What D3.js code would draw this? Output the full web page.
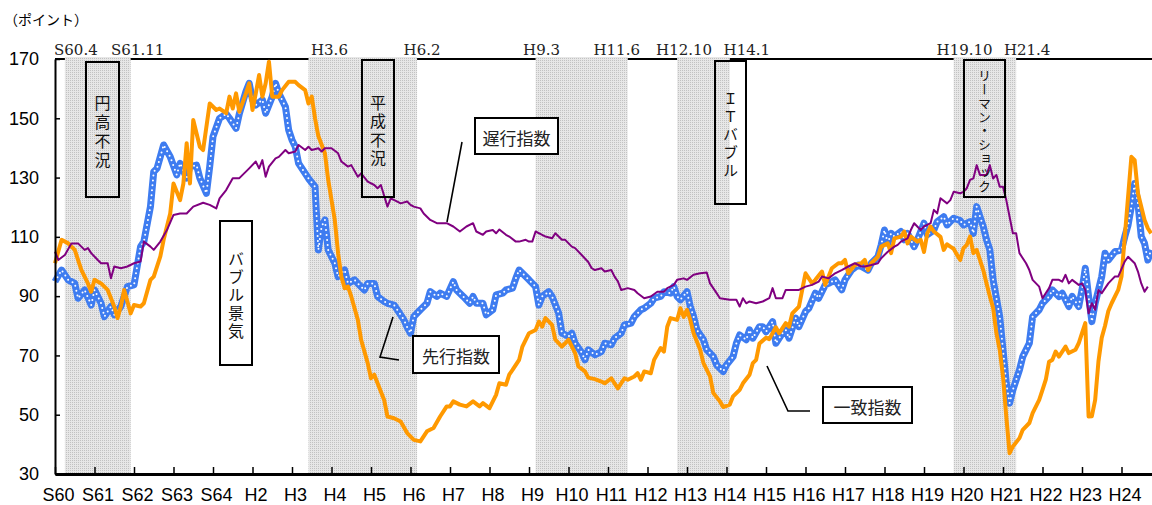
<!DOCTYPE html>
<html><head><meta charset="utf-8">
<script src="https://cdn.jsdelivr.net/npm/d3@7"></script>
<style>html,body{margin:0;padding:0;background:#fff;overflow:hidden}</style>
</head><body><svg id="c" width="1152" height="505"></svg>
<script>
// ---------------- DATA ----------------
const startYear = 1985; // month index 0 = January 1985 (S60.1)
const xLabels = ["S60","S61","S62","S63","S64","H2","H3","H4","H5","H6","H7","H8","H9","H10","H11","H12","H13","H14","H15","H16","H17","H18","H19","H20","H21","H22","H23","H24"];
const yTicks = [30,50,70,90,110,130,150,170];
const recessionStart = ["1985-04","1991-06","1997-03","2000-10","2007-10"];
const recessionEnd   = ["1986-11","1994-02","1999-06","2002-01","2009-04"];
const recessionStartLabels = ["S60.4","H3.6","H9.3","H12.10","H19.10"];
const recessionEndLabels   = ["S61.11","H6.2","H11.6","H14.1","H21.4"];
const seriesNames = ["先行指数","一致指数","遅行指数"];
const periodNames = ["円高不況","バブル景気","平成不況","ＩＴバブル","リーマン・ショック"];

// [month index from Jan 1985, index value]
const leading = [[0,94.9],[2,98.8],[4,95.5],[6,94.3],[7,89.3],[9,92.1],[11,87],[12,92.1],[14,87.6],[15,83.1],[17,86.5],[18,83.7],[20,86.5],[22,93.2],[24,93.8],[26,106.7],[27,108.4],[29,120.2],[30,132],[31,133.1],[33,141],[35,137],[37,130.9],[38,134.8],[40,129.8],[41,133.7],[43,134.2],[44,129.8],[46,124.7],[47,133.7],[48,143.8],[50,150],[52,151.5],[53,150],[55,146.6],[56,151.5],[58,159],[59,161.8],[60,156.2],[61,154.5],[63,156.2],[64,151.7],[66,157.3],[67,161.8],[68,158.4],[70,153.9],[71,146],[72,142.7],[73,140.4],[74,134.8],[76,131.4],[77,129.7],[79,126.9],[80,105.6],[81,113.5],[82,115.7],[83,105.6],[85,101.1],[86,96.6],[88,98.8],[89,94.3],[91,95.5],[92,94.3],[94,92.1],[95,94.3],[97,94.3],[98,89.9],[100,88.2],[101,87.6],[103,87],[104,85.4],[106,82],[107,79.5],[108,77.5],[109,83.1],[111,85.4],[113,87.6],[114,91.5],[116,89.9],[117,91],[119,89.9],[121,94.9],[122,92.1],[124,89.9],[126,87.6],[127,89.9],[128,87.6],[130,87.6],[131,83.7],[133,85.4],[134,90.4],[136,91],[137,92.1],[139,92.7],[140,96],[141,98.8],[143,96.6],[144,95.5],[146,93.2],[147,87],[148,89.9],[150,91.5],[151,89.9],[153,84.3],[154,77.5],[156,76.4],[157,77.5],[158,74.1],[160,71],[161,68.5],[162,71.9],[164,70.2],[166,71.3],[167,74.1],[169,73.6],[170,75.8],[172,77.5],[173,80.3],[175,80.9],[176,83.1],[178,85.4],[179,85.9],[181,87.6],[182,89.3],[184,89.9],[185,91.5],[187,91],[188,93.2],[189,89.9],[190,88.8],[192,91.5],[193,86.5],[194,83.1],[195,78.6],[197,75.3],[198,71.9],[200,69.6],[201,66.8],[203,64.6],[204,66.8],[206,69.6],[207,74.1],[208,76.9],[210,75.3],[211,78.6],[212,75.8],[214,79.7],[215,79.7],[216,78],[218,81.4],[219,74.1],[221,77.5],[222,78.6],[223,75.8],[225,82.6],[226,79.7],[228,84.8],[229,85.9],[231,91],[232,89.3],[234,93.8],[235,94.3],[237,95.5],[239,92.1],[240,95.5],[242,98.8],[244,100.5],[245,100],[247,98.8],[248,101.1],[250,103.3],[251,107.3],[252,112.3],[253,107.8],[254,111.2],[255,110.1],[257,111.8],[258,109],[259,111.2],[261,106.7],[262,109],[264,114.6],[265,110.7],[267,112.3],[268,115.1],[270,116.8],[271,114],[273,116.3],[275,115.5],[276,114],[278,115.1],[279,111.2],[280,120.2],[282,113.5],[283,109],[284,105.6],[285,95.5],[287,83.1],[288,71.9],[289,60.6],[290,53.9],[291,58.4],[293,65.1],[294,69.6],[296,74.1],[297,83.1],[299,85.4],[300,87.6],[302,89.9],[303,92.1],[305,89.9],[306,91],[308,86.5],[309,89.9],[311,86.5],[312,92.1],[313,99.4],[314,89.9],[315,81.4],[316,87.6],[318,96.6],[319,104.5],[320,102.2],[322,105],[324,105.6],[325,110.1],[326,114],[327,120.2],[328,128],[329,121.3],[330,110.1],[331,107.8],[332,102.2],[333,105.6]];

const coincident = [[0,101.1],[2,109],[4,107.8],[6,105.6],[8,98.9],[10,94.3],[11,91.5],[12,95.5],[14,94.3],[16,92.1],[18,86.5],[19,82.6],[20,86.5],[21,92.1],[23,84.2],[24,87],[26,86.5],[27,87.6],[29,95.5],[30,96.6],[32,103.4],[33,109],[35,117.9],[36,128],[38,122.4],[39,128],[40,141.6],[41,128],[42,149.4],[44,140.4],[45,139.3],[47,155],[49,152.8],[50,153.3],[52,151.7],[53,157.3],[54,153.3],[55,158.4],[56,152.2],[58,158.4],[59,161.8],[60,152.8],[61,158.4],[62,164.6],[63,157.3],[64,161.8],[65,169.1],[66,157.3],[68,157.3],[69,159.5],[71,162.3],[73,162.3],[74,161.2],[76,159.5],[77,155],[78,157.3],[79,150],[80,144],[82,138.2],[83,129.2],[85,115.7],[86,104.5],[87,96.6],[88,92.7],[89,93.2],[90,89.9],[92,82],[93,75.3],[95,67.4],[96,62.3],[97,63.5],[98,60.6],[100,55],[101,49.4],[103,48.8],[105,47.7],[107,43.8],[109,41.5],[111,41],[113,44.4],[115,45.5],[117,49.4],[119,52.8],[120,52.8],[121,54.5],[123,53.4],[125,52.8],[127,54.5],[129,52.8],[130,53.9],[132,52.2],[134,56.7],[135,60.6],[137,60.1],[138,63.5],[139,65.1],[141,68.5],[142,73],[144,77.5],[146,78.6],[147,81.4],[148,79.7],[149,82.6],[151,80.3],[152,75.3],[154,73],[155,74.1],[156,75.3],[158,70.8],[159,66.3],[161,64.6],[162,62.5],[164,62],[166,61.2],[167,60.6],[169,62.3],[170,60.6],[171,58.9],[173,62.3],[174,61.8],[176,62.9],[177,64],[178,61.8],[179,64.6],[181,64],[182,68.5],[184,72.5],[185,71.3],[186,79.7],[187,82.6],[189,82],[190,85.9],[191,83],[192,85.4],[193,82],[194,77.5],[196,71.9],[197,67.4],[199,62.9],[200,57.3],[202,54.5],[203,52.6],[205,53.4],[206,56.2],[208,58.4],[209,60.6],[211,63.5],[212,67.4],[213,68.5],[214,74],[216,76],[217,75.5],[219,79.5],[220,77.5],[222,80.9],[223,79.7],[224,84.2],[226,86.5],[227,92.1],[228,97.7],[230,94.3],[231,95.5],[233,98.3],[234,93.8],[236,99.4],[238,101.1],[239,101.1],[240,102.2],[241,97.7],[243,100.5],[245,101.1],[246,102.2],[247,98.8],[248,101.1],[250,103.3],[251,106.7],[253,107.8],[254,104.5],[255,109.5],[257,110.1],[258,111.8],[259,107.8],[260,110.1],[262,108.4],[263,109],[264,104.9],[265,111.2],[266,113.5],[267,111.8],[269,110],[270,105.6],[271,107.5],[272,106.7],[273,106],[274,104],[275,102.2],[276,106.2],[277,107.3],[278,110.1],[279,104.5],[280,105.6],[282,98.8],[283,94.3],[284,90],[285,86],[286,77.5],[287,71.9],[288,62.9],[289,49.4],[290,37],[291,39.3],[293,42.1],[294,44.9],[296,47.2],[297,50.5],[299,55],[300,58.4],[301,61.8],[302,67.9],[303,68.5],[304,71.3],[305,69.6],[307,73],[308,70.8],[310,71.9],[311,74.1],[312,77.5],[313,80.9],[314,49.4],[315,49.5],[316,55],[317,68],[318,76],[319,80],[320,85],[321,87.6],[323,92.1],[324,96.6],[325,110.1],[326,123.6],[327,137],[328,135.9],[329,124.7],[331,115.7],[332,112.9],[333,111.2]];

const lagging = [[0,105],[1,102.2],[3,103.9],[5,107.8],[7,107.8],[9,105.6],[10,106.2],[11,104.5],[13,102.2],[14,101.1],[16,101.1],[17,96],[18,100],[20,99.4],[22,100],[24,101.1],[26,101.7],[27,108.4],[29,106.7],[30,105.6],[32,108.4],[34,112.3],[36,117.4],[38,117.9],[40,117.9],[42,120.2],[45,121.5],[47,120.8],[49,119.6],[50,123],[52,125.8],[54,129.8],[56,129.8],[58,132],[59,133.1],[61,135.4],[62,133.1],[63,135.9],[64,130.3],[65,133.7],[67,136.5],[68,137],[70,139.3],[71,138.2],[73,138.8],[74,141],[76,139.3],[77,140.4],[78,139.3],[80,139.9],[81,138.8],[82,139.9],[84,139.9],[86,138.2],[87,135.4],[89,133.7],[90,134.2],[92,130.3],[93,131.4],[95,128.6],[97,127.5],[98,126.4],[99,127.5],[101,120.2],[102,123],[104,121.9],[105,121.3],[107,121.9],[108,120.8],[109,120.2],[111,119.6],[112,117.9],[114,115.7],[116,114.6],[119,114.6],[121,113.5],[123,111.8],[125,113.5],[127,114.6],[128,111.8],[130,110.7],[131,111.8],[133,112.3],[134,111.2],[135,112.5],[137,110.7],[138,110.1],[140,108.4],[141,108.4],[143,109],[144,108.4],[145,108.4],[146,111.8],[148,110.7],[149,110.1],[151,109.5],[152,111.2],[154,109],[155,109],[157,106.7],[158,106.2],[160,103.9],[162,101.5],[163,99.5],[164,98.8],[166,99.4],[167,98.3],[169,98.8],[170,96.6],[171,95],[172,92.1],[174,92.7],[176,92.1],[177,91],[179,89.3],[181,89.9],[183,91.5],[185,91.5],[186,92.7],[188,93.8],[189,95.5],[191,96],[192,95.5],[194,97.2],[196,97.7],[198,98],[199,94.3],[201,91],[202,89.3],[205,88.8],[207,88.8],[208,86.5],[209,89.3],[210,87.6],[211,88.2],[213,87.6],[215,88.2],[217,89.3],[218,92.7],[219,89.3],[221,89.3],[222,92.1],[224,92.1],[226,92.1],[228,93.2],[230,93.8],[232,94.9],[233,96.6],[235,96],[237,97.7],[239,98.8],[241,100],[243,101.1],[245,100],[246,100],[248,100.5],[250,101.1],[251,102.8],[253,105],[255,106.7],[256,107.3],[257,108.4],[259,109.5],[260,112.3],[261,114.6],[263,112.3],[264,113.5],[266,114.6],[267,119.1],[268,117.9],[269,123],[271,121.3],[272,122.4],[273,125.2],[275,124.7],[276,125.2],[277,126.4],[278,129.2],[279,129.7],[280,134.2],[281,130.9],[283,130.9],[284,134.2],[285,129.7],[286,130.9],[287,126.9],[288,126.9],[289,122.4],[290,116.8],[291,111.2],[292,111.2],[293,104.5],[295,101.1],[296,98.8],[297,95.5],[299,93.2],[300,89.3],[302,92.7],[303,95.5],[305,95.5],[306,94.9],[307,97.2],[308,94.3],[309,95.5],[311,93.8],[312,94.3],[313,92.1],[314,84.2],[315,87.6],[316,85.4],[317,92.1],[318,91],[320,94.3],[321,95.5],[322,96.6],[323,96.6],[325,101.7],[326,103.3],[328,101.1],[329,98.3],[330,94.3],[331,91.5],[332,93.2]];

// ---------------- LAYOUT ----------------
const W = 1152, H = 505;
const plotLeft = 55, plotTop = 59, plotBottom = 474;
const monthPx = 39.5 / 12;
const totalMonths = xLabels.length * 12;
const x = d3.scaleLinear().domain([0, totalMonths]).range([plotLeft, plotLeft + totalMonths * monthPx]);
const y = d3.scaleLinear().domain([30, 170]).range([plotBottom, plotTop]);
const mIdx = s => { const [yy, mm] = s.split("-").map(Number); return (yy - startYear) * 12 + (mm - 1); };

const svg = d3.select("#c");
svg.append("rect").attr("width", W).attr("height", H).attr("fill", "#fff");

const defs = svg.append("defs");
const pat = defs.append("pattern").attr("id", "dots").attr("width", 2).attr("height", 2).attr("patternUnits", "userSpaceOnUse");
pat.append("rect").attr("width", 2).attr("height", 2).attr("fill", "#e7e7e7");
pat.append("rect").attr("width", 1).attr("height", 1).attr("fill", "#c2c2c2");

const jp = "'Noto Sans CJK JP', sans-serif";
const num = "'Liberation Sans', Arial, sans-serif";
const serif = "'DejaVu Serif', serif";

// unit label
svg.append("text").attr("x", 4).attr("y", 25).attr("font-family", jp).attr("font-size", 14).attr("fill", "#000").text("（ポイント）");

// top border
svg.append("line").attr("x1", plotLeft).attr("x2", W).attr("y1", plotTop).attr("y2", plotTop).attr("stroke", "#000").attr("stroke-width", 2);

// recession shading
const bands = recessionStart.map((s, i) => ({ s: mIdx(s), e: mIdx(recessionEnd[i]) + 1 }));
svg.append("g").selectAll("rect").data(bands).join("rect")
  .attr("x", d => x(d.s)).attr("width", d => x(d.e) - x(d.s))
  .attr("y", plotTop - 2).attr("height", plotBottom - plotTop + 2)
  .attr("fill", "url(#dots)");

// recession labels
const startDx = [11, 21, 6, 7, 11];
const endDx = [7, 5, -11, 17, 11];
const lg = svg.append("g").attr("font-family", serif).attr("font-size", 15).attr("fill", "#222").attr("text-anchor", "middle");
bands.forEach((b, i) => {
  lg.append("text").attr("x", x(b.s) + startDx[i]).attr("y", 55).text(recessionStartLabels[i]);
  lg.append("text").attr("x", x(b.e) + endDx[i]).attr("y", 55).text(recessionEndLabels[i]);
});

// lines
const line = d3.line().x(d => x(d[0])).y(d => y(d[1]));
const lines = svg.append("g").attr("fill", "none").attr("stroke-linejoin", "round");
lines.append("path").datum(leading).attr("d", line).attr("stroke", "#3e7cf0").attr("stroke-width", 7);
lines.append("path").datum(leading).attr("d", line).attr("stroke", "#fff").attr("stroke-width", 2).attr("stroke-dasharray", "0 5").attr("stroke-linecap", "round");
lines.append("path").datum(coincident).attr("d", line).attr("stroke", "#ff9900").attr("stroke-width", 4);
lines.append("path").datum(lagging).attr("d", line).attr("stroke", "#800080").attr("stroke-width", 2);

// vertical period boxes (vertical writing)
const vboxes = [
  { x: 86, y: 62, w: 33, h: 135, fs: 16, step: 19, fill: "none" },
  { x: 220, y: 221, w: 32, h: 144, fs: 16, step: 18, fill: "#fff" },
  { x: 362, y: 60, w: 32, h: 137, fs: 16, step: 18.5, fill: "none" },
  { x: 715, y: 61, w: 31, h: 143, fs: 15, step: 18, fill: "none" },
  { x: 964, y: 60, w: 41, h: 137, fs: 13, step: 13.9, fill: "none" }
];
const ann = svg.append("g");
vboxes.forEach((b, i) => {
  ann.append("rect").attr("x", b.x).attr("y", b.y).attr("width", b.w).attr("height", b.h)
    .attr("fill", b.fill).attr("stroke", "#000").attr("stroke-width", 2);
  const ls = b.step - b.fs;
  ann.append("text")
    .attr("x", b.x + b.w / 2).attr("y", b.y + b.h / 2 + 2 + ls / 2)
    .style("writing-mode", "vertical-rl")
    .attr("text-anchor", "middle")
    .attr("letter-spacing", ls)
    .attr("font-family", jp).attr("font-size", b.fs).attr("fill", "#111")
    .text(periodNames[i]);
});

// series label boxes with leader lines
const hboxes = [
  { x: 475, y: 118, w: 83, h: 36, name: 2, leader: [[462, 142], [447, 222]] },
  { x: 413, y: 336, w: 86, h: 37, name: 0, leader: [[393, 317], [380, 357], [399, 360]] },
  { x: 823, y: 387, w: 89, h: 36, name: 1, leader: [[767, 366], [788, 411], [810, 411]] }
];
hboxes.forEach(b => {
  ann.append("path").attr("d", d3.line()(b.leader)).attr("fill", "none").attr("stroke", "#000").attr("stroke-width", 1.6);
  ann.append("rect").attr("x", b.x).attr("y", b.y).attr("width", b.w).attr("height", b.h)
    .attr("fill", "#fff").attr("stroke", "#000").attr("stroke-width", 2);
  ann.append("text").attr("x", b.x + b.w / 2).attr("y", b.y + b.h / 2 + 1)
    .attr("text-anchor", "middle").attr("dominant-baseline", "central")
    .attr("font-family", jp).attr("font-size", 17).attr("fill", "#222").text(seriesNames[b.name]);
});

// axes
const yAxis = d3.axisLeft(y).tickValues(yTicks).tickSize(-5).tickSizeOuter(0).tickPadding(16);
const gy = svg.append("g").attr("transform", `translate(${plotLeft},0)`).call(yAxis);
gy.select(".domain").attr("stroke", "#000").attr("stroke-width", 2);
gy.selectAll(".tick line").attr("stroke", "#000").attr("stroke-width", 1.5);
gy.selectAll("text").attr("font-family", num).attr("font-size", 18).attr("fill", "#000");

const xAxis = d3.axisBottom(x).tickValues(d3.range(0, totalMonths, 12)).tickSize(-7).tickSizeOuter(0).tickPadding(14)
  .tickFormat((d, i) => xLabels[i]);
const gx = svg.append("g").attr("transform", `translate(0,${plotBottom})`).call(xAxis);
gx.select(".domain").attr("stroke", "#000").attr("stroke-width", 3);
gx.selectAll(".tick line").attr("stroke", "#000").attr("stroke-width", 1.5);
gx.selectAll("text").attr("font-family", num).attr("font-size", 18).attr("fill", "#000").attr("dx", 3);
</script></body></html>
